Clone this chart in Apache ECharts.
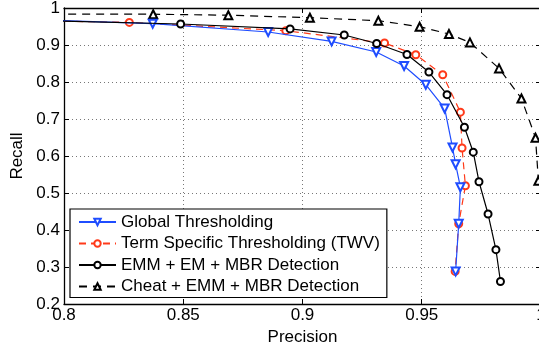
<!DOCTYPE html>
<html>
<head>
<meta charset="utf-8">
<script src="https://cdn.jsdelivr.net/npm/echarts@6/dist/echarts.min.js"></script>
<style>html,body{margin:0;padding:0;background:#fff;}#c{width:539px;height:345px;}</style>
</head>
<body>
<div id="c"></div>
<script>
// Data (precision, recall)
var seriesNames = ['Global Thresholding', 'Term Specific Thresholding (TWV)', 'EMM + EM + MBR Detection', 'Cheat + EMM + MBR Detection'];
var globalPrecision = [0.79, 0.8372, 0.8856, 0.9122, 0.9309, 0.9426, 0.9517, 0.9596, 0.9629, 0.9642, 0.9662, 0.9655, 0.9642];
var globalRecall    = [0.968, 0.9576, 0.9351, 0.9097, 0.8811, 0.8432, 0.7927, 0.7284, 0.6230, 0.5778, 0.5157, 0.4170, 0.2881];
var termPrecision = [0.79, 0.8274, 0.8930, 0.9344, 0.9475, 0.9588, 0.9662, 0.9669, 0.9683, 0.9655, 0.9640];
var termRecall    = [0.9655, 0.9611, 0.9386, 0.9054, 0.8738, 0.8197, 0.7184, 0.6216, 0.5197, 0.4170, 0.2881];
var emmPrecision = [0.79, 0.8489, 0.8948, 0.9175, 0.9311, 0.9438, 0.9530, 0.9606, 0.9679, 0.9716, 0.9740, 0.9778, 0.9811, 0.9830];
var emmRecall    = [0.966, 0.9568, 0.9435, 0.9270, 0.9040, 0.8743, 0.8270, 0.7657, 0.6778, 0.6103, 0.5305, 0.4432, 0.3468, 0.2608];
var cheatPrecision = [0.79, 0.8374, 0.8689, 0.9031, 0.9318, 0.9491, 0.9614, 0.9702, 0.9824, 0.9918, 0.9977, 0.9989];
var cheatRecall    = [0.9835, 0.9832, 0.9805, 0.9738, 0.9657, 0.9495, 0.9297, 0.9070, 0.8368, 0.7554, 0.6495, 0.5332];
var xTicks = [0.8, 0.85, 0.9, 0.95, 1];
var yTicks = [0.2, 0.3, 0.4, 0.5, 0.6, 0.7, 0.8, 0.9, 1];

function pairs(xs, ys) { return xs.map(function (x, i) { return [x, ys[i]]; }); }

var FONT = '"Liberation Sans", Arial, Helvetica, sans-serif';
var BLUE = '#1f4dff', RED = '#ff3a1a', BLACK = '#000';

function fmt(v) { return String(+v.toFixed(2)); }

var chart = echarts.init(document.getElementById('c'), null, { renderer: 'canvas' });
var axisLine = { show: true, lineStyle: { color: '#000', width: 1.3 } };
var gridLine = { show: true, lineStyle: { color: '#777', type: [1, 3], width: 1 } };

chart.setOption({
  animation: false,
  backgroundColor: '#fff',
  textStyle: { fontFamily: FONT },
  grid: { left: 64, top: 8, width: 477, height: 296, containLabel: false, outerBoundsMode: 'none' },
  xAxis: [{
    type: 'value', min: 0.8, max: 1, interval: 0.05,
    name: 'Precision', nameLocation: 'middle', nameGap: 21,
    nameTextStyle: { fontSize: 17, color: '#000', fontFamily: FONT },
    axisLine: axisLine,
    axisTick: { show: true, inside: true, length: 5, lineStyle: { color: '#000' } },
    axisLabel: { fontSize: 17, color: '#000', margin: 3, fontFamily: FONT, formatter: fmt, hideOverlap: false, showMaxLabel: true, showMinLabel: true },
    splitLine: gridLine
  }, {
    type: 'value', min: 0.8, max: 1, interval: 0.05, position: 'top',
    axisLine: axisLine,
    axisTick: { show: true, inside: true, length: 5, lineStyle: { color: '#000' } },
    axisLabel: { show: false }, splitLine: { show: false }
  }],
  yAxis: [{
    type: 'value', min: 0.2, max: 1, interval: 0.1,
    name: 'Recall', nameLocation: 'middle', nameGap: 34, nameRotate: 90,
    nameTextStyle: { fontSize: 17, color: '#000', fontFamily: FONT },
    axisLine: axisLine,
    axisTick: { show: true, inside: true, length: 5, lineStyle: { color: '#000' } },
    axisLabel: { fontSize: 17, color: '#000', margin: 4, fontFamily: FONT, formatter: fmt, showMaxLabel: true, showMinLabel: true },
    splitLine: gridLine
  }, {
    type: 'value', min: 0.2, max: 1, interval: 0.1, position: 'right',
    axisLine: axisLine,
    axisTick: { show: true, inside: true, length: 5, lineStyle: { color: '#000' } },
    axisLabel: { show: false }, splitLine: { show: false }
  }],
  legend: {
    orient: 'vertical', left: 70, top: 209,
    backgroundColor: '#fff', borderColor: '#000', borderWidth: 1.2,
    padding: [4, 7, 2, 8], itemGap: 3.5, itemWidth: 37, itemHeight: 8,
    textStyle: { fontSize: 17, color: '#000', fontFamily: FONT, lineHeight: 18 },
    data: seriesNames
  },
  series: [
    {
      name: seriesNames[0], type: 'line', data: pairs(globalPrecision, globalRecall), clip: true,
      symbol: 'emptyTriangle', symbolRotate: 180, symbolSize: 8,
      lineStyle: { color: BLUE, width: 1.2 }, itemStyle: { color: BLUE, borderWidth: 1.2 }, z: 4
    },
    {
      name: seriesNames[1], type: 'line', data: pairs(termPrecision, termRecall), clip: true,
      symbol: 'emptyCircle', symbolSize: 7,
      lineStyle: { color: RED, width: 1.2, type: [7, 5] }, itemStyle: { color: RED, borderWidth: 1.2 }, z: 3
    },
    {
      name: seriesNames[2], type: 'line', data: pairs(emmPrecision, emmRecall), clip: true,
      symbol: 'emptyCircle', symbolSize: 7,
      lineStyle: { color: BLACK, width: 1.2 }, itemStyle: { color: BLACK, borderWidth: 1.2 }, z: 5
    },
    {
      name: seriesNames[3], type: 'line', data: pairs(cheatPrecision, cheatRecall), clip: true,
      symbol: 'emptyTriangle', symbolSize: 8,
      lineStyle: { color: BLACK, width: 1.2, type: [8, 6] }, itemStyle: { color: BLACK, borderWidth: 1.2 }, z: 2
    }
  ]
});
</script>
</body>
</html>
